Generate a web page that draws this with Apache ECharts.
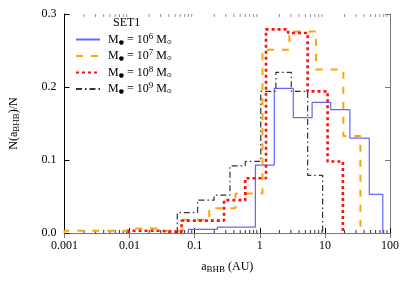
<!DOCTYPE html>
<html>
<head>
<meta charset="utf-8">
<script src="https://cdn.jsdelivr.net/npm/echarts@6/dist/echarts.min.js"></script>
<style>
html,body{margin:0;padding:0;background:#fff;}
#chart{width:415px;height:291px;}
</style>
</head>
<body>
<div id="chart"></div>
<script>
// ---- data (bin edges in AU, histogram fractions) ----
const xTickLabels = ['0.001', '0.01', '0.1', '1', '10', '100'];
const yTickLabels = ['0.0', '0.1', '0.2', '0.3'];
const legendExps = ['6', '7', '8', '9'];

const blueEdges = [0.0802, 0.223, 0.855, 1.67, 3.27, 6.36, 12.3, 24.2, 48.1, 77.5];
const blueVals  = [0.005, 0.008, 0.093, 0.198, 0.158, 0.179, 0.169, 0.130, 0.053];

const orangeEdges = [0.001, 0.0093, 0.0275, 0.0651, 0.167, 0.423, 1.10, 2.85, 7.31, 19.2, 35.1];
const orangeVals  = [0.003, 0.006, 0.003, 0.018, 0.034, 0.054, 0.251, 0.276, 0.224, 0.133];

const redEdges = [0.0097, 0.0295, 0.0628, 0.282, 0.598, 1.245, 2.72, 5.43, 11.0, 18.9];
const redVals  = [0.003, 0.001, 0.017, 0.045, 0.075, 0.279, 0.274, 0.194, 0.098];

const blackEdges = [0.054, 0.111, 0.199, 0.348, 0.598, 1.035, 1.766, 3.05, 5.43, 9.23];
const blackVals  = [0.028, 0.045, 0.052, 0.092, 0.098, 0.194, 0.220, 0.194, 0.079];

// minor tick positions of the log axis (2..9 in each decade)
const xMinorTicks = [];
[0.001, 0.01, 0.1, 1, 10].forEach(function (d) {
  [2, 3, 4, 5, 6, 7, 8, 9].forEach(function (k) { xMinorTicks.push(+(k * d).toPrecision(3)); });
});

function histPoints(edges, vals) {
  const pts = [[edges[0], 0]];
  for (let i = 0; i < vals.length; i++) {
    pts.push([edges[i], vals[i]]);
    pts.push([edges[i + 1], vals[i]]);
  }
  pts.push([edges[edges.length - 1], 0]);
  return pts;
}

const FONT = 'Liberation Serif';
const chart = echarts.init(document.getElementById('chart'), null, {renderer: 'canvas'});

const axisCommon = {
  axisLine: {show: true, lineStyle: {color: '#000', width: 1}},
  splitLine: {show: false}
};

function seriesDef(name, edges, vals, color, type, width) {
  return {
    name: name,
    type: 'line',
    data: histPoints(edges, vals),
    symbol: 'none',
    showSymbol: false,
    legendIcon: 'none',
    silent: true,
    animation: false,
    lineStyle: {color: color, width: width, type: type},
    itemStyle: {color: color}
  };
}

function minorTickSeries(yVal, offset, color, yIndex) {
  return {
    type: 'scatter',
    silent: true,
    xAxisIndex: 0, yAxisIndex: 0,
    data: xMinorTicks.map(function (v) { return [v, yVal]; }),
    symbol: 'rect',
    symbolSize: [1, 3],
    symbolOffset: [0, offset],
    itemStyle: {color: color},
    clip: false,
    z: 1
  };
}

const option = {
  animation: false,
  backgroundColor: '#fff',
  title: {
    text: 'SET1',
    left: 113, top: 17, padding: 0,
    textStyle: {fontFamily: FONT, fontSize: 12, fontWeight: 'normal', color: '#000'}
  },
  legend: {
    orient: 'vertical',
    left: 75, top: 32,
    padding: 0,
    itemWidth: 24, itemHeight: 10, itemGap: 3,
    selectedMode: false,
    itemStyle: {opacity: 0},
    data: ['M6', 'M7', 'M8', 'M9'],
    formatter: function (name) {
      const e = legendExps[['M6','M7','M8','M9'].indexOf(name)];
      return '{m|M}{sb|\u25CF}{m| = 10}{sp|' + e + '}{m| M}{sb|\u2299}';
    },
    textStyle: {
      fontFamily: FONT, fontSize: 12, color: '#000', padding: [0, 0, 0, 3],
      rich: {
        m: {fontFamily: FONT, fontSize: 12, color: '#000'},
        sp: {fontFamily: FONT, fontSize: 9, color: '#000', padding: [0, 0, 6, 0]},
        sb: {fontFamily: 'DejaVu Sans', fontSize: 6, color: '#000', padding: [5, 0, 0, 0]}
      }
    }
  },
  grid: {left: 60, right: 25, top: 14, bottom: 58, containLabel: false},
  xAxis: [
    Object.assign({}, axisCommon, {
      type: 'log', logBase: 10, min: 0.001, max: 100,
      position: 'bottom',
      name: '{n|a}{s|BHB}{n| (AU)}',
      nameLocation: 'middle', nameGap: 26,
      nameTextStyle: {
        fontFamily: FONT, fontSize: 12, color: '#000',
        rich: {
          n: {fontFamily: FONT, fontSize: 12, color: '#000'},
          s: {fontFamily: FONT, fontSize: 9, color: '#000', padding: [6, 0, 0, 0]}
        }
      },
      axisTick: {show: true, inside: true, length: 5, lineStyle: {color: '#000'}},
      axisLabel: {
        fontFamily: FONT, fontSize: 12, color: '#000', margin: 7,
        formatter: function (v, idx) { return xTickLabels[idx]; }
      }
    }),
    Object.assign({}, axisCommon, {
      type: 'log', logBase: 10, min: 0.001, max: 100,
      position: 'top',
      axisLine: {show: true, lineStyle: {color: '#777'}},
      axisTick: {show: true, inside: true, length: 5, lineStyle: {color: '#777'}},
      axisLabel: {show: false}
    })
  ],
  yAxis: [
    Object.assign({}, axisCommon, {
      type: 'value', min: 0, max: 0.3, interval: 0.1,
      position: 'left',
      name: '{n|N(a}{s|BHB}{n|)/N}',
      nameLocation: 'middle', nameRotate: 90, nameGap: 43,
      nameTextStyle: {
        fontFamily: FONT, fontSize: 12, color: '#000',
        rich: {
          n: {fontFamily: FONT, fontSize: 12, color: '#000'},
          s: {fontFamily: FONT, fontSize: 9, color: '#000', padding: [6, 0, 0, 0]}
        }
      },
      axisTick: {show: true, inside: true, length: 5, lineStyle: {color: '#000'}},
      axisLabel: {
        fontFamily: FONT, fontSize: 12, color: '#000', margin: 8,
        formatter: function (v, idx) { return yTickLabels[idx]; }
      }
    }),
    Object.assign({}, axisCommon, {
      type: 'value', min: 0, max: 0.3, interval: 0.1,
      position: 'right',
      axisLine: {show: true, lineStyle: {color: '#777'}},
      axisTick: {show: true, inside: true, length: 5, lineStyle: {color: '#777'}},
      axisLabel: {show: false}
    })
  ],
  series: [
    seriesDef('M6', blueEdges, blueVals, '#6464ff', 'solid', 1.2),
    seriesDef('M7', orangeEdges, orangeVals, '#ffa500', [7, 8], 2),
    seriesDef('M8', redEdges, redVals, '#ff1010', [3, 3], 2.6),
    seriesDef('M9', blackEdges, blackVals, '#333333', [6, 3, 1.5, 3], 1.2),
    minorTickSeries(0, -1.5, '#000'),
    minorTickSeries(0.3, 1.5, '#777')
  ]
};
chart.setOption(option);
</script>
</body>
</html>
